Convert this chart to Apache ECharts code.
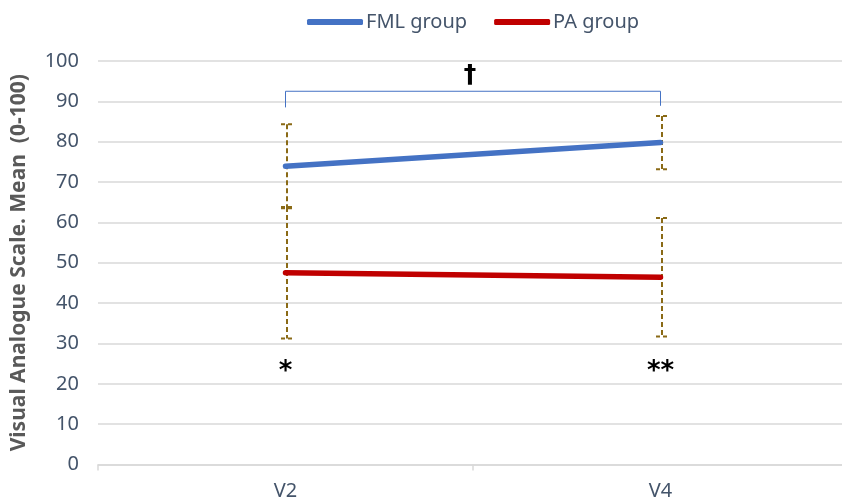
<!DOCTYPE html>
<html>
<head>
<meta charset="utf-8">
<script src="https://cdn.jsdelivr.net/npm/echarts@6/dist/echarts.min.js"></script>
<style>
  html, body { margin: 0; padding: 0; background: #ffffff; }
  #chart { width: 842px; height: 502px; }
</style>
</head>
<body>
<div id="chart"></div>
<script>
// Visits and group labels
const visits = ['V2', 'V4'];
const groupNames = ['FML group', 'PA group'];

// Mean VAS score per visit
const fmlMean = [73.9, 79.8];
const paMean = [47.5, 46.4];

// Standard deviation per visit
const fmlSd = [10.4, 6.6];
const paSd = [16.3, 14.7];

// Y axis range
const yTicks = { min: 0, max: 100, step: 10 };

// Significance annotations
const bracketLevel = 92.5;            // top of the comparison bracket
const bracketFeet = [88.5, 88.9];     // lower ends of the bracket legs
const bracketMark = '†';
const visitMarks = ['*', '**'];
const visitMarkLevel = 24.5;

const textColor = '#44546A';
const gridColor = '#D9D9D9';
const errColor = '#8A6A16';
const fontFamily = '"Noto Sans", "Open Sans", sans-serif';

const chart = echarts.init(document.getElementById('chart'), null, { renderer: 'canvas' });

// error bar rows: [visitIndex, mean, sd]
function errRows(means, sds) {
  return means.map((m, i) => [i, m, sds[i]]);
}

function renderErr(params, api) {
  const idx = api.value(0);
  const m = api.value(1);
  const sd = api.value(2);
  const top = api.coord([idx, m + sd]);
  const bot = api.coord([idx, m - sd]);
  const x = top[0] + 1.5;
  const cap = 6;
  const style = { stroke: errColor, lineWidth: 2, lineDash: [5, 3], fill: null };
  return {
    type: 'group',
    children: [
      { type: 'line', shape: { x1: x, y1: top[1], x2: x, y2: bot[1] }, style: style },
      { type: 'line', shape: { x1: x - cap, y1: top[1], x2: x + cap, y2: top[1] }, style: Object.assign({}, style, { lineDash: [4, 3] }) },
      { type: 'line', shape: { x1: x - cap, y1: bot[1], x2: x + cap, y2: bot[1] }, style: Object.assign({}, style, { lineDash: [4, 3] }) }
    ]
  };
}

function renderBracket(params, api) {
  const a = api.coord([0, bracketFeet[0]]);
  const b = api.coord([0, bracketLevel]);
  const c = api.coord([1, bracketLevel]);
  const d = api.coord([1, bracketFeet[1]]);
  const midX = (b[0] + c[0]) / 2;
  return {
    type: 'group',
    children: [
      {
        type: 'polyline',
        shape: { points: [a, b, c, d] },
        style: { stroke: '#4472C4', lineWidth: 1, fill: null }
      },
      {
        type: 'text',
        x: midX - 3, y: b[1] - 3,
        style: {
          text: bracketMark, fill: '#000000',
          font: 'bold 25px "DejaVu Sans", sans-serif',
          align: 'center', verticalAlign: 'bottom'
        }
      }
    ]
  };
}

function renderMark(params, api) {
  const p = api.coord([api.value(0), visitMarkLevel]);
  return {
    type: 'text',
    x: p[0], y: p[1] + 7,
    style: {
      text: visitMarks[params.dataIndex], fill: '#000000',
      font: 'bold 26px "DejaVu Sans", sans-serif',
      align: 'center', verticalAlign: 'middle'
    }
  };
}

chart.setOption({
  animation: false,
  backgroundColor: '#ffffff',
  legend: {
    top: 7,
    left: 302,
    itemWidth: 56,
    itemHeight: 6,
    itemGap: 27,
    icon: 'roundRect',
    textStyle: { color: textColor, fontSize: 20, fontFamily: fontFamily, padding: [0, 0, 0, -2] },
    data: groupNames
  },
  grid: { left: 98, right: -6, top: 61, bottom: 37.5, outerBoundsMode: 'none', containLabel: false },
  xAxis: {
    type: 'category',
    data: visits,
    boundaryGap: true,
    axisLine: { lineStyle: { color: gridColor, width: 1.5 } },
    axisTick: { show: true, length: 6, lineStyle: { color: gridColor, width: 1.5 } },
    axisLabel: { color: textColor, fontSize: 20, fontFamily: fontFamily, margin: 17 },
    splitLine: { show: false }
  },
  yAxis: {
    type: 'value',
    min: yTicks.min,
    max: yTicks.max,
    interval: yTicks.step,
    name: 'Visual Analogue Scale. Mean  (0-100)',
    nameLocation: 'middle',
    nameRotate: 90,
    nameGap: 68,
    nameTextStyle: { color: '#595959', fontSize: 21, fontWeight: 'bold', fontFamily: fontFamily },
    axisLine: { show: false },
    axisTick: { show: false },
    axisLabel: { color: textColor, fontSize: 20, fontFamily: fontFamily, margin: 19 },
    splitLine: { lineStyle: { color: gridColor, width: 1.5 } }
  },
  series: [
    {
      type: 'custom',
      name: 'fmlErr',
      renderItem: renderErr,
      data: errRows(fmlMean, fmlSd),
      z: 1,
      silent: true
    },
    {
      type: 'custom',
      name: 'paErr',
      renderItem: renderErr,
      data: errRows(paMean, paSd),
      z: 1,
      silent: true
    },
    {
      name: groupNames[0],
      type: 'line',
      data: fmlMean,
      symbol: 'none',
      lineStyle: { color: '#4472C4', width: 5.5, cap: 'round' },
      itemStyle: { color: '#4472C4' },
      z: 3
    },
    {
      name: groupNames[1],
      type: 'line',
      data: paMean,
      symbol: 'none',
      lineStyle: { color: '#C00000', width: 5.5, cap: 'round' },
      itemStyle: { color: '#C00000' },
      z: 3
    },
    {
      type: 'custom',
      name: 'bracket',
      renderItem: renderBracket,
      data: [[0]],
      z: 4,
      silent: true
    },
    {
      type: 'custom',
      name: 'marks',
      renderItem: renderMark,
      data: visits.map((v, i) => [i]),
      z: 4,
      silent: true
    }
  ]
});
</script>
</body>
</html>
